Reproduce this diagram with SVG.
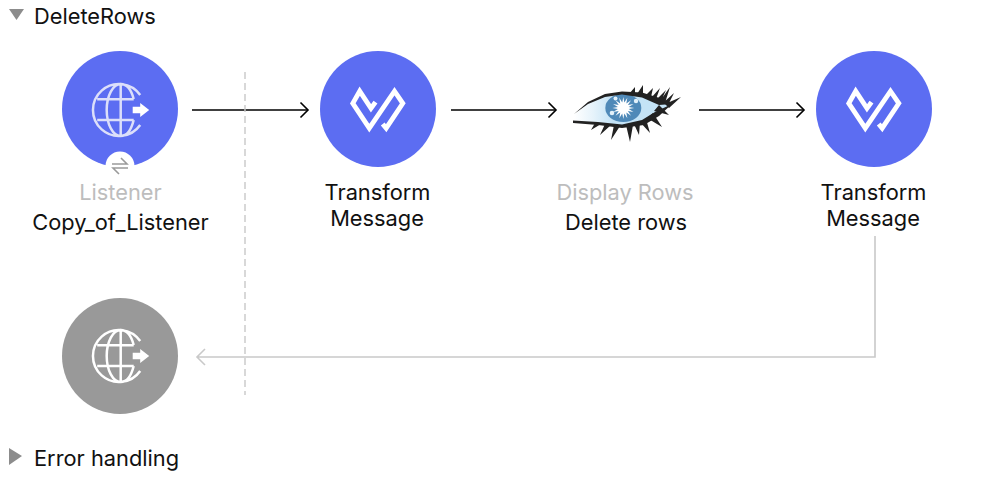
<svg xmlns="http://www.w3.org/2000/svg" width="1008" height="480" viewBox="0 0 1008 480">
<style>
text{font-family:"Inter","Liberation Sans",sans-serif;font-size:21.8px;fill:#111;text-anchor:middle}
.t{text-anchor:start}
.g{fill:#bdbdbd}
.flow{fill:none;stroke:#000;stroke-width:1.6;marker-end:url(#a)}
.err{fill:none;stroke:#c9c9c9;stroke-width:1.6}
.ic{fill:none;stroke-width:2.5}
.lash{fill:#222}
</style>
<defs>
<marker id="a" markerUnits="userSpaceOnUse" markerWidth="14" markerHeight="18" refX="12" refY="9" orient="auto"><path d="M4.500 1.500L12 9L4.500 16.500" fill="none" stroke="#000" stroke-width="1.600"/></marker>
<linearGradient id="eye" x1="0" x2="1" y1="0" y2="0"><stop offset="0" stop-color="#fff"/><stop offset=".2" stop-color="#e6f3fb"/><stop offset=".4" stop-color="#c4e3f6"/></linearGradient>
<g id="tm"><circle r="58" fill="#5c6df2"/><path d="M-2.500-6.900L-7-.7L-18.300-17.800L-25.200-5.700L-8.700 19.200L16.500-17.800L24.800-5.700L8.200 19.200L4.700 14.900" fill="none" stroke="#fff" stroke-width="4.800"/></g>
<g id="globe"><path d="M19.500-15A26 26 0 1 0 19.500 15M0-26V26M0-26A14 26 0 0 0 0 26M0-26Q9-26 13-11M0 26Q9 26 13 10M-23.500-10.700H13M-23.500 10H13" class="ic"/><path d="M12-3.300H19.500V-7L28.500 0L19.500 7V3.300H12Z" stroke="none"/></g>
</defs>
<g id="header-main"><path d="M9 9H24L16.500 20Z" fill="#8c8c8c"/><text class="t" x="34" y="24">DeleteRows</text></g>
<g id="connectors">
<path class="flow" d="M192 110H308"/>
<path class="flow" d="M451 110H556"/>
<path class="flow" d="M699 110H804"/>
<path class="err" d="M875 236V357H197M205 349L197 357L205 365"/>
<path d="M245 72V395" fill="none" stroke="#c8c8c8" stroke-width="1.400" stroke-dasharray="7 4"/>
</g>
<g id="listener">
<circle cx="120" cy="109" r="58" fill="#5c6df2"/>
<use href="#globe" x="120.700" y="110" stroke="#dcdffa" fill="#fff"/>
<circle cx="120" cy="166" r="14.500" fill="#fff"/>
<path d="M112 164H127L121 158M128 168H113L119 174" fill="none" stroke="#9a9a9a" stroke-width="1.600"/>
<text class="g" x="120.500" y="199.500">Listener</text>
<text x="120.500" y="229.500">Copy_of_Listener</text>
</g>
<g id="transform1"><use href="#tm" x="378" y="109"/><text x="377.500" y="199.500">Transform</text><text x="377" y="226">Message</text></g>
<g id="cassandra">
<path d="M574 115L588 103L605 96L622 94L642 95L658 101L670 105L655 114L642 122L622 126L598 123L574 121Z" fill="url(#eye)"/>
<ellipse cx="623.300" cy="108" rx="18" ry="14" fill="#4f89b8"/>
<path transform="translate(623.300 108)" d="M11 0L5.390 1.070L10.200 4.020L4.570 3.060L7.800 7.800L3.060 4.570L4.020 10.200L1.070 5.390L0 11L-1.070 5.390L-4.020 10.200L-3.060 4.570L-7.800 7.800L-4.570 3.060L-10.200 4.020L-5.390 1.070L-11 0L-5.390-1.070L-10.200-4.020L-4.570-3.060L-7.800-7.800L-3.060-4.570L-4.020-10.200L-1.070-5.390L0-11L1.070-5.390L4.020-10.200L3.060-4.570L7.800-7.800L4.570-3.060L10.200-4.020L5.390-1.070Z" fill="#fff"/>
<circle cx="615.500" cy="98.500" r="2" fill="#e3f1fa"/><circle cx="636" cy="101" r="2.200" fill="#e3f1fa"/><circle cx="612" cy="113" r="2.300" fill="#e3f1fa"/>
<path class="lash" d="M574 114L588 102L605 94L622 91.500L642 92.500L658 97.500L672 104L659 105L642 97.500L622 94.500L605 97L588 104Z"/>
<path class="lash" d="M573 120.500L598 122L622 124.500L642 120L655 112L672 104L659 116L644 125L622 128L598 125L573 123Z"/>
<path class="lash" d="M595 123L591 130L601 124ZM605 124L600 135L611 125ZM614 125L611 140L620 126ZM626 125L630 142L633 125ZM634 124L639 135L640 122ZM640 122L650 133L646 119ZM647 118L662 127L653 113ZM654 111L669 115L659 105ZM629 94L635 87L635 94ZM637 94L643 85L643 95ZM645 96L653 88L651 97ZM651 98L660 88L656 99ZM656 100L666 90L661 101ZM660 101L670 87L665 103ZM663 103L674 93L668 105ZM665 104L681 97L669 108Z"/>
<text class="g" x="625" y="199.500">Display Rows</text><text x="626" y="229.500">Delete rows</text>
</g>
<g id="transform2"><use href="#tm" x="874" y="109"/><text x="873.500" y="199.500">Transform</text><text x="873" y="226">Message</text></g>
<g id="error-source">
<circle cx="120" cy="356" r="58" fill="#999"/>
<use href="#globe" x="120.700" y="356" stroke="#fff" fill="#fff"/>
</g>
<g id="header-error"><path d="M9 448L22 456L9 465Z" fill="#8c8c8c"/><text class="t" x="34" y="465.500">Error handling</text></g>
</svg>
